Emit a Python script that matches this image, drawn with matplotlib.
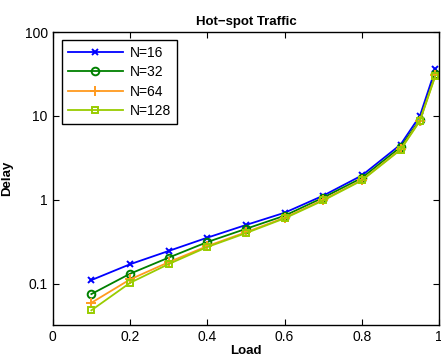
import matplotlib
matplotlib.use("Agg")
import matplotlib.pyplot as plt
from matplotlib.ticker import NullLocator, FixedLocator

plt.rcParams['font.family'] = ['Liberation Sans', 'DejaVu Sans']

load = [0.1, 0.2, 0.3, 0.4, 0.5, 0.6, 0.7, 0.8, 0.9, 0.95, 0.99]
n16 = [0.11, 0.17, 0.245, 0.353, 0.50, 0.70, 1.12, 1.95, 4.55, 10.0, 36.0]
n32 = [0.075, 0.131, 0.204, 0.313, 0.45, 0.645, 1.06, 1.82, 4.25, 9.0, 31.5]
n64 = [0.059, 0.112, 0.18, 0.28, 0.41, 0.61, 1.0, 1.72, 4.0, 8.8, 30.5]
n128 = [0.048, 0.102, 0.171, 0.273, 0.40, 0.60, 0.98, 1.70, 3.95, 8.7, 30.0]
labels = ['N=16', 'N=32', 'N=64', 'N=128']
xticks = [0, 0.2, 0.4, 0.6, 0.8, 1]
yticks = [0.1, 1, 10, 100]
yticklabels = ['0.1', '1', '10', '100']

fig = plt.figure(figsize=(4.41, 3.6), dpi=100)
ax = fig.add_axes([0.1195, 0.097, 0.8765, 0.814])

styles = [
    dict(color='#0000ff', marker='x', ms=4.5, mew=1.4),
    dict(color='#008000', marker='o', ms=5.5, mfc='none', mew=1.4),
    dict(color='#ff9a1f', marker='+', ms=6.5, mew=1.4),
    dict(color='#99cc00', marker='s', ms=5, mfc='none', mew=1.4),
]
for ys, lab, st in zip([n16, n32, n64, n128], labels, styles):
    ax.plot(load, ys, lw=1.3, label=lab, **st)

ax.set_yscale('log')
ax.set_xlim(0, 1)
ax.set_ylim(0.032, 100)
ax.xaxis.set_major_locator(FixedLocator(xticks))
ax.set_xticklabels(['0', '0.2', '0.4', '0.6', '0.8', '1'])
ax.yaxis.set_major_locator(FixedLocator(yticks))
ax.set_yticklabels(yticklabels)
ax.yaxis.set_minor_locator(NullLocator())
ax.tick_params(direction='in', top=True, right=True, labelsize=10, length=4, width=0.8)
for s in ax.spines.values():
    s.set_linewidth(1.0)

ax.set_title('Hot\u2212spot Traffic', fontsize=9.5, fontweight='bold', pad=5)
ax.set_xlabel('Load', fontsize=9.5, fontweight='bold', labelpad=1)
ax.set_ylabel('Delay', fontsize=9.5, fontweight='bold', labelpad=8)

leg = ax.legend(loc='upper left', bbox_to_anchor=(0.024, 0.973), borderaxespad=0,
                fontsize=10, fancybox=False, edgecolor='black', framealpha=1,
                handlelength=4.0, borderpad=0.4, labelspacing=0.4, handletextpad=0.5)
leg.get_frame().set_linewidth(1.0)

fig.savefig('out.png', dpi=100)
